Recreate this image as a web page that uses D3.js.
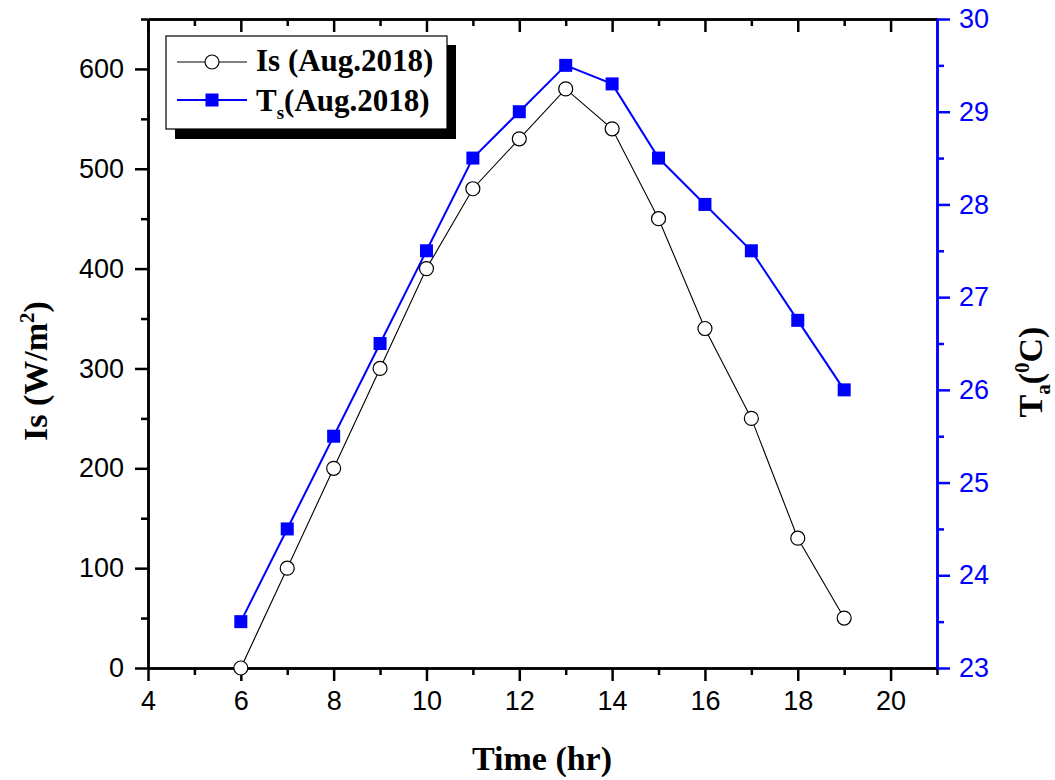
<!DOCTYPE html>
<html>
<head>
<meta charset="utf-8">
<script src="https://cdn.jsdelivr.net/npm/d3@7"></script>
<style>
  html, body { margin: 0; padding: 0; background: #fff; }
  svg { display: block; }
</style>
</head>
<body>
<svg id="chart" width="1055" height="780"></svg>
<script>
// Hourly readings, August 2018
const hours = [6, 7, 8, 9, 10, 11, 12, 13, 14, 15, 16, 17, 18, 19];
const irradiance = [0, 100, 200, 300, 400, 480, 530, 580, 540, 450, 340, 250, 130, 50];
const temperature = [23.5, 24.5, 25.5, 26.5, 27.5, 28.5, 29, 29.5, 29.3, 28.5, 28, 27.5, 26.75, 26];

const xTicks = [4, 6, 8, 10, 12, 14, 16, 18, 20];
const yLeftTicks = [0, 100, 200, 300, 400, 500, 600];
const yRightTicks = [23, 24, 25, 26, 27, 28, 29, 30];

const seriesNames = ["Is (Aug.2018)", "(Aug.2018)"];

const BLUE = "#0000ff";
const svg = d3.select("#chart");

const plotLeft = 148, plotRight = 937, plotTop = 19, plotBottom = 668;

const x = d3.scaleLinear().domain([4, 21]).range([plotLeft, plotRight]);
const yL = d3.scaleLinear().domain([0, 650]).range([plotBottom, plotTop]);
const yR = d3.scaleLinear().domain([23, 30]).range([plotBottom, plotTop]);

const tickFont = "'Liberation Sans', Arial, sans-serif";
const labelFont = "'Liberation Serif', 'Times New Roman', serif";
const intFmt = d3.format("d");

// minor tick positions
const xMinor = d3.range(5, 22, 2);
const yLMinor = d3.range(50, 651, 100);
const yRMinor = d3.range(23.5, 30, 1);

function styleAxis(g, color) {
  g.select(".domain").attr("stroke", color).attr("stroke-width", 2.5);
  g.selectAll(".tick line").attr("stroke", color).attr("stroke-width", 2.5);
  g.selectAll(".tick text").attr("fill", color)
    .style("font-family", tickFont).style("font-size", "27px");
}

// Bottom axis: minor ticks, then major ticks with labels
svg.append("g").attr("transform", `translate(0,${plotBottom})`)
  .call(d3.axisBottom(x).tickValues(xMinor).tickSize(7).tickFormat("").tickSizeOuter(0))
  .call(g => styleAxis(g, "#000"));
svg.append("g").attr("transform", `translate(0,${plotBottom})`)
  .call(d3.axisBottom(x).tickValues(xTicks).tickSize(13).tickPadding(10).tickFormat(intFmt).tickSizeOuter(0))
  .call(g => styleAxis(g, "#000"));

// Top axis: inward ticks, no labels
svg.append("g").attr("transform", `translate(0,${plotTop})`)
  .call(d3.axisBottom(x).tickValues(xMinor.filter(v => v < 21)).tickSize(7).tickFormat("").tickSizeOuter(0))
  .call(g => styleAxis(g, "#000"));
svg.append("g").attr("transform", `translate(0,${plotTop})`)
  .call(d3.axisBottom(x).tickValues(xTicks).tickSize(13).tickFormat("").tickSizeOuter(0))
  .call(g => styleAxis(g, "#000"));

// Left axis
svg.append("g").attr("transform", `translate(${plotLeft},0)`)
  .call(d3.axisLeft(yL).tickValues(yLMinor).tickSize(7).tickFormat("").tickSizeOuter(0))
  .call(g => styleAxis(g, "#000"));
svg.append("g").attr("transform", `translate(${plotLeft},0)`)
  .call(d3.axisLeft(yL).tickValues(yLeftTicks).tickSize(13).tickPadding(11).tickFormat(intFmt).tickSizeOuter(0))
  .call(g => styleAxis(g, "#000"));

// Right axis (blue)
svg.append("g").attr("transform", `translate(${plotRight},0)`)
  .call(d3.axisRight(yR).tickValues(yRMinor).tickSize(7).tickFormat("").tickSizeOuter(0))
  .call(g => styleAxis(g, BLUE));
svg.append("g").attr("transform", `translate(${plotRight},0)`)
  .call(d3.axisRight(yR).tickValues(yRightTicks).tickSize(13).tickPadding(9).tickFormat(intFmt).tickSizeOuter(0))
  .call(g => styleAxis(g, BLUE));

const isData = hours.map((h, i) => ({ h, v: irradiance[i] }));
const tsData = hours.map((h, i) => ({ h, v: temperature[i] }));

// Series lines
svg.append("path")
  .datum(isData)
  .attr("fill", "none").attr("stroke", "#000").attr("stroke-width", 1.1)
  .attr("d", d3.line().x(d => x(d.h)).y(d => yL(d.v)));

svg.append("path")
  .datum(tsData)
  .attr("fill", "none").attr("stroke", BLUE).attr("stroke-width", 2)
  .attr("d", d3.line().x(d => x(d.h)).y(d => yR(d.v)));

// Markers
svg.selectAll("circle.is").data(isData).enter().append("circle")
  .attr("class", "is")
  .attr("cx", d => x(d.h)).attr("cy", d => yL(d.v)).attr("r", 7)
  .attr("fill", "#fff").attr("stroke", "#000").attr("stroke-width", 1.2);

const sq = 13;
svg.selectAll("rect.ts").data(tsData).enter().append("rect")
  .attr("class", "ts")
  .attr("x", d => x(d.h) - sq / 2).attr("y", d => yR(d.v) - sq / 2)
  .attr("width", sq).attr("height", sq)
  .attr("fill", BLUE);

// Axis titles
svg.append("text")
  .attr("x", 542).attr("y", 770).attr("text-anchor", "middle")
  .style("font-family", labelFont).style("font-size", "34px").style("font-weight", "bold")
  .text("Time (hr)");

const yLabel = svg.append("text")
  .attr("transform", "translate(47,371) rotate(-90)")
  .attr("text-anchor", "middle")
  .style("font-family", labelFont).style("font-size", "34px").style("font-weight", "bold");
yLabel.append("tspan").text("Is (W/m");
yLabel.append("tspan").attr("dy", -13).style("font-size", "21px").text("2");
yLabel.append("tspan").attr("dy", 13).text(")");

const rLabel = svg.append("text")
  .attr("transform", "translate(1042,372) rotate(-90)")
  .attr("text-anchor", "middle")
  .style("font-family", labelFont).style("font-size", "34px").style("font-weight", "bold");
rLabel.append("tspan").text("T");
rLabel.append("tspan").attr("dy", 8).style("font-size", "21px").text("a");
rLabel.append("tspan").attr("dy", -8).text("(");
rLabel.append("tspan").attr("dy", -13).style("font-size", "21px").text("0");
rLabel.append("tspan").attr("dy", 13).text("C)");

// Legend with drop shadow
const lg = svg.append("g");
lg.append("rect").attr("x", 175).attr("y", 45).attr("width", 281).attr("height", 94).attr("fill", "#000");
lg.append("rect").attr("x", 166).attr("y", 36).attr("width", 281).attr("height", 93)
  .attr("fill", "#fff").attr("stroke", "#000").attr("stroke-width", 1.2);

const rowY = [62, 100];
lg.append("line").attr("x1", 177).attr("x2", 247).attr("y1", rowY[0]).attr("y2", rowY[0])
  .attr("stroke", "#000").attr("stroke-width", 1.1);
lg.append("circle").attr("cx", 212).attr("cy", rowY[0]).attr("r", 7)
  .attr("fill", "#fff").attr("stroke", "#000").attr("stroke-width", 1.2);
lg.append("line").attr("x1", 177).attr("x2", 247).attr("y1", rowY[1]).attr("y2", rowY[1])
  .attr("stroke", BLUE).attr("stroke-width", 2);
lg.append("rect").attr("x", 212 - sq / 2).attr("y", rowY[1] - sq / 2).attr("width", sq).attr("height", sq)
  .attr("fill", BLUE);

lg.append("text").attr("x", 256).attr("y", 71)
  .style("font-family", labelFont).style("font-size", "31px").style("font-weight", "bold")
  .text(seriesNames[0]);
const t2 = lg.append("text").attr("x", 256).attr("y", 111)
  .style("font-family", labelFont).style("font-size", "31px").style("font-weight", "bold");
t2.append("tspan").text("T");
t2.append("tspan").attr("dy", 8).style("font-size", "19px").text("s");
t2.append("tspan").attr("dy", -8).text(seriesNames[1]);
</script>
</body>
</html>
